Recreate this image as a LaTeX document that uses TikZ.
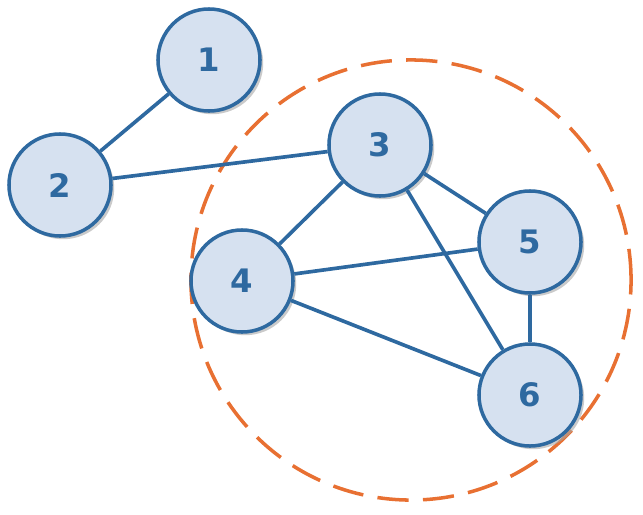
\documentclass[tikz,border=0pt]{standalone}
\usepackage{fontspec}
\setmainfont{DejaVu Sans}
\usepackage{xcolor}
\usetikzlibrary{shadows}
\definecolor{nodeblue}{RGB}{46,105,160}
\definecolor{nodefill}{RGB}{214,225,240}
\definecolor{ringorange}{RGB}{232,112,50}
\begin{document}
\begin{tikzpicture}[x=0.025cm,y=-0.025cm,
  vertex/.style={circle,draw=nodeblue,fill=nodefill,line width=2.5pt,minimum size=2.55cm,
    text=nodeblue,font=\fontsize{23}{27}\selectfont\bfseries,
    drop shadow={shadow xshift=0.08cm,shadow yshift=-0.08cm,fill=black!35,opacity=0.6}},
  edge/.style={draw=nodeblue,line width=2.6pt},
  ring/.style={draw=ringorange,line width=2.5pt,dash pattern=on 0.78cm off 0.36cm}]
\useasboundingbox (0,0) rectangle (643,514);
\draw[ring] (411,280) circle[radius=5.5cm];
\node[vertex] (v1) at (209,60) {1};
\node[vertex] (v2) at (60,185) {2};
\node[vertex] (v3) at (380,145) {3};
\node[vertex] (v4) at (242,281) {4};
\node[vertex] (v5) at (530,242) {5};
\node[vertex] (v6) at (530,395) {6};
\draw[edge] (v1) -- (v2);
\draw[edge] (v2) -- (v3);
\draw[edge] (v3) -- (v4);
\draw[edge] (v3) -- (v5);
\draw[edge] (v3) -- (v6);
\draw[edge] (v4) -- (v5);
\draw[edge] (v4) -- (v6);
\draw[edge] (v5) -- (v6);
\end{tikzpicture}
\end{document}
